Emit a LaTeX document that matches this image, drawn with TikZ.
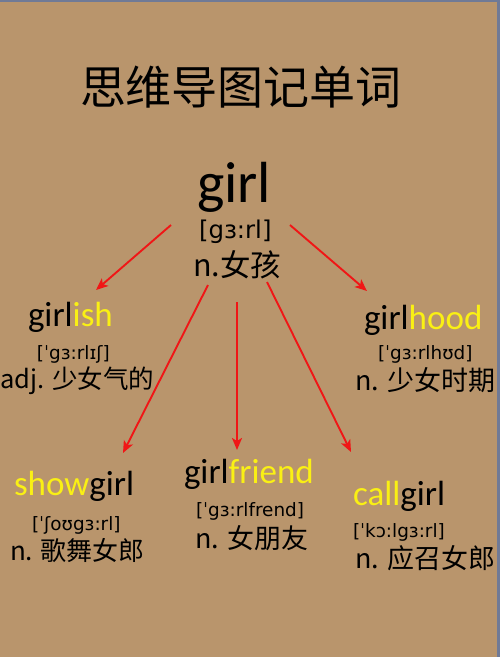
\documentclass[tikz,border=0pt]{standalone}
\usepackage{fontspec}
\setmainfont{Carlito}
\newfontfamily\cjk{Noto Sans CJK SC}
\newfontfamily\ipa{DejaVu Sans}
\usetikzlibrary{arrows.meta}
\definecolor{paper}{RGB}{185,149,108}
\definecolor{edge}{RGB}{112,122,150}
\definecolor{hl}{RGB}{250,240,20}
\definecolor{arr}{RGB}{240,22,22}
\tikzset{
  txt/.style={inner sep=0pt, outer sep=0pt, anchor=base west, text=black},
  head/.style={txt, font=\fontsize{35}{38}\selectfont},
  phon/.style={txt, font=\ipa\fontsize{18.4}{20}\selectfont},
  mean/.style={txt, font=\cjk\fontsize{27}{30}\selectfont},
  link/.style={draw=arr, line width=1.9pt, -{Stealth[length=12pt,width=10pt,inset=3pt]}}
}
\begin{document}
\begin{tikzpicture}[x=1pt,y=-1pt]
\fill[paper] (0,0) rectangle (500,657);
\useasboundingbox (0,0) rectangle (500,657);
\fill[edge] (0,0) rectangle (500,2);
\fill[edge] (497,0) rectangle (500,657);

% title
\node[txt, font=\cjk\fontsize{46}{50}\selectfont] (title) at (80,104) {思维导图记单词};

% root
\node[txt, font=\fontsize{58}{60}\selectfont] (root) at (197,202) {girl};
\node[txt, font=\ipa\fontsize{24.4}{26}\selectfont] (rootp) at (199,238) {[gɜ:rl]};
\node[txt, font=\cjk\fontsize{30.5}{32}\selectfont] (rootm) at (193,276) {n.女孩};

% girlish
\node[head] (w1) at (28,326) {girl\textcolor{hl}{ish}};
\node[phon] (w1p) at (37,359) {[ˈgɜ:rlɪʃ]};
\node[mean, font=\cjk\fontsize{25.5}{28}\selectfont] (w1m) at (0.5,388) {adj. 少女气的};

% girlhood
\node[head] (w2) at (364,329) {girl\textcolor{hl}{hood}};
\node[phon] (w2p) at (378,359) {[ˈgɜ:rlhʊd]};
\node[mean] (w2m) at (355,390) {n. 少女时期};

% showgirl
\node[head] (w3) at (14,495) {\textcolor{hl}{show}girl};
\node[phon] (w3p) at (32,530) {[ˈʃoʊgɜ:rl]};
\node[mean, font=\cjk\fontsize{26}{28}\selectfont] (w3m) at (10,560) {n. 歌舞女郎};

% girlfriend
\node[head] (w4) at (184,483) {girl\textcolor{hl}{friend}};
\node[phon] (w4p) at (196,516) {[ˈgɜ:rlfrend]};
\node[mean] (w4m) at (195,548) {n. 女朋友};

% callgirl
\node[head] (w5) at (353,505) {\textcolor{hl}{call}girl};
\node[phon] (w5p) at (353,537) {[ˈkɔ:lgɜ:rl]};
\node[mean] (w5m) at (355,568) {n. 应召女郎};

% arrow ends
\coordinate (s1) at (171,225); \coordinate (e1) at (96,290);
\coordinate (s2) at (290,225); \coordinate (e2) at (367,291);
\coordinate (s3) at (208,285); \coordinate (e3) at (123,453);
\coordinate (s4) at (237,302); \coordinate (e4) at (237,450);
\coordinate (s5) at (267,282); \coordinate (e5) at (351,452);
\draw[link] (s1) -- (e1);
\draw[link] (s2) -- (e2);
\draw[link] (s3) -- (e3);
\draw[link] (s4) -- (e4);
\draw[link] (s5) -- (e5);
\end{tikzpicture}
\end{document}
